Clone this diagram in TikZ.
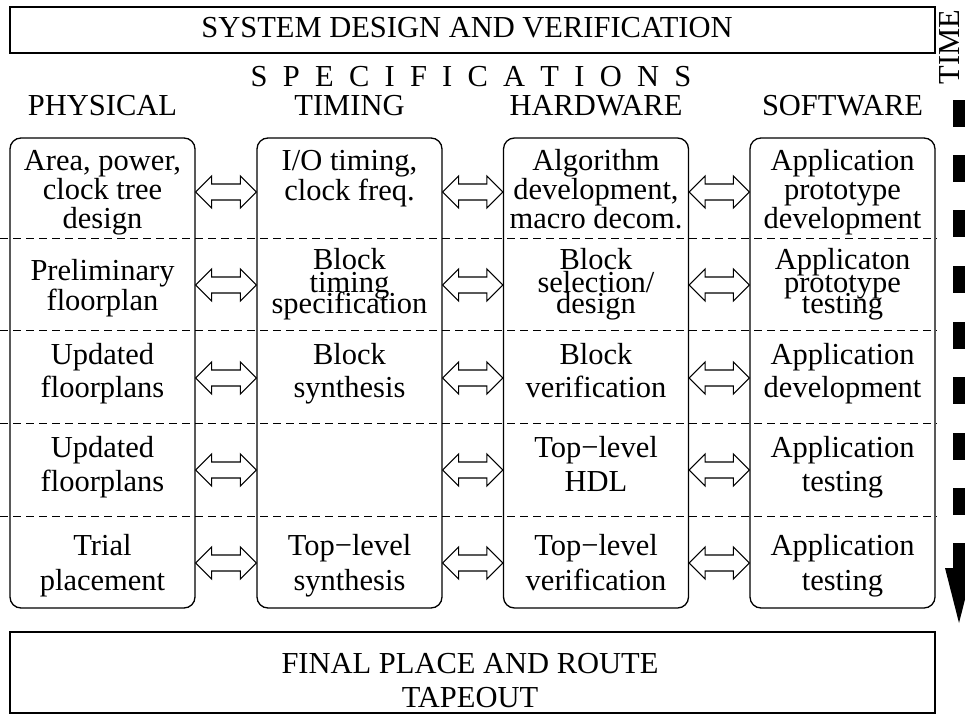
\documentclass[tikz,border=0pt]{standalone}
\usepackage{fontspec}
\setmainfont{Liberation Serif}
\usetikzlibrary{calc}
\tikzset{
  colbox/.style={draw, line width=1.3pt, rounded corners=11pt, minimum width=185pt, minimum height=470pt, inner sep=0pt},
  bigbox/.style={draw, line width=1.3pt, inner sep=0pt},
  txt/.style={anchor=base, inner sep=0pt, font=\fontsize{30.5}{31}\selectfont},
  dashline/.style={line width=0.9pt, dash pattern=on 8pt off 5pt},
  dblarr/.style={draw, line width=1.1pt, fill=white, line join=miter},
  timebar/.style={fill=black},
}
\newcommand\dblarrow[2]{%
  \draw[dblarr] let \p1=(#1), \p2=(#2) in
    (\x1,\y1) -- (\x1+16pt,\y1+16pt) -- (\x1+16pt,\y1+8pt) -- (\x2-16pt,\y1+8pt)
    -- (\x2-16pt,\y1+16pt) -- (\x2,\y1) -- (\x2-16pt,\y1-16pt) -- (\x2-16pt,\y1-8pt)
    -- (\x1+16pt,\y1-8pt) -- (\x1+16pt,\y1-16pt) -- cycle;}
\begin{document}
\begin{tikzpicture}[x=1pt,y=-1pt]
\useasboundingbox (0,0) rectangle (965,715);

% top box and headings
\node[bigbox, minimum width=925pt, minimum height=46pt] (topbox) at (472.5,30) {};
\node[txt] (title) at (467,37) {SYSTEM DESIGN AND VERIFICATION};
\node[txt] (spec) at (471,86) {S~~P~~E~~C~~I~~F~~I~~C~~A~~T~~I~~O~~N~~S};
\node[txt] (hphys) at (102.5,115) {PHYSICAL};
\node[txt] (htim) at (349.5,115) {TIMING};
\node[txt] (hhw) at (596,115) {HARDWARE};
\node[txt] (hsw) at (842.5,115) {SOFTWARE};

% columns
\node[colbox] (col1) at (102.5,373) {};
\node[colbox] (col2) at (349.5,373) {};
\node[colbox] (col3) at (596,373) {};
\node[colbox] (col4) at (842.5,373) {};

% dashed row separators
\foreach \yy in {238,330,423,516}
  \draw[dashline] (0,\yy) -- (937,\yy);

% row centres for the arrows
\coordinate (r1) at (0,192);
\coordinate (r2) at (0,285);
\coordinate (r3) at (0,378);
\coordinate (r4) at (0,470);
\coordinate (r5) at (0,563);
\foreach \r in {r1,r2,r3,r4,r5}{
  \dblarrow{col1.east |- \r}{col2.west |- \r}
  \dblarrow{col2.east |- \r}{col3.west |- \r}
  \dblarrow{col3.east |- \r}{col4.west |- \r}
}

% row 1
\node[txt] (a1) at (102.5,170) {Area, power,};
\node[txt] (a2) at (102.5,199) {clock tree};
\node[txt] (a3) at (102.5,228) {design};
\node[txt] (b1) at (349.5,170) {I/O timing,};
\node[txt] (b2) at (349.5,200) {clock freq.};
\node[txt] (c1) at (596,170) {Algorithm};
\node[txt] (c2) at (596,199) {development,};
\node[txt] (c3) at (596,228) {macro decom.};
\node[txt] (d1) at (842.5,170) {Application};
\node[txt] (d2) at (842.5,199) {prototype};
\node[txt] (d3) at (842.5,228) {development};

% row 2
\node[txt] (e1) at (102.5,280) {Preliminary};
\node[txt] (e2) at (102.5,310) {floorplan};
\node[txt] (f1) at (349.5,269) {Block};
\node[txt] (f2) at (349.5,292) {timing};
\node[txt] (f3) at (349.5,313) {specification};
\node[txt] (g1) at (596,269) {Block};
\node[txt] (g2) at (596,292) {selection/};
\node[txt] (g3) at (596,313) {design};
\node[txt] (h1) at (842.5,269) {Applicaton};
\node[txt] (h2) at (842.5,292) {prototype};
\node[txt] (h3) at (842.5,313) {testing};

% row 3
\node[txt] (i1) at (102.5,364) {Updated};
\node[txt] (i2) at (102.5,397) {floorplans};
\node[txt] (j1) at (349.5,364) {Block};
\node[txt] (j2) at (349.5,397) {synthesis};
\node[txt] (k1) at (596,364) {Block};
\node[txt] (k2) at (596,397) {verification};
\node[txt] (l1) at (842.5,364) {Application};
\node[txt] (l2) at (842.5,397) {development};

% row 4
\node[txt] (m1) at (102.5,457) {Updated};
\node[txt] (m2) at (102.5,491) {floorplans};
\node[txt] (o1) at (596,457) {Top−level};
\node[txt] (o2) at (596,491) {HDL};
\node[txt] (p1) at (842.5,457) {Application};
\node[txt] (p2) at (842.5,491) {testing};

% row 5
\node[txt] (q1) at (102.5,555) {Trial};
\node[txt] (q2) at (102.5,590) {placement};
\node[txt] (s1) at (349.5,555) {Top−level};
\node[txt] (s2) at (349.5,590) {synthesis};
\node[txt] (t1) at (596,555) {Top−level};
\node[txt] (t2) at (596,590) {verification};
\node[txt] (u1) at (842.5,555) {Application};
\node[txt] (u2) at (842.5,590) {testing};

% bottom box
\node[bigbox, minimum width=925pt, minimum height=81pt] (botbox) at (472.5,672.5) {};
\node[txt] (fin1) at (470,673) {FINAL PLACE AND ROUTE};
\node[txt] (fin2) at (470,707) {TAPEOUT};

% time arrow
\node[font=\fontsize{30.5}{31}\selectfont, inner sep=0pt, rotate=90] (time) at (949,47) {TIME};
\foreach \yy in {100,155,210,266,322,377,433,488}
  \fill[timebar] (953,\yy) rectangle (965,\yy+27);
\fill[timebar] (953,543) -- (953,568) -- (945,568) -- (959,623) -- (973,568) -- (965,568) -- (965,543) -- cycle;
\end{tikzpicture}
\end{document}
